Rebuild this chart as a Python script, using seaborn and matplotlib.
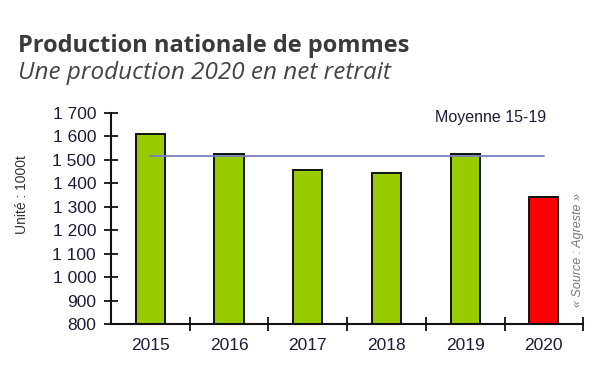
import matplotlib
matplotlib.use("Agg")
import matplotlib.pyplot as plt
import seaborn as sns
import pandas as pd
from matplotlib.ticker import FixedLocator

# Data
years = ["2015", "2016", "2017", "2018", "2019", "2020"]
production = [1610, 1523, 1457, 1444, 1523, 1340]
bar_colors = ["#99CC00", "#99CC00", "#99CC00", "#99CC00", "#99CC00", "#FF0000"]
moyenne_15_19 = 1515
y_ticks = [800, 900, 1000, 1100, 1200, 1300, 1400, 1500, 1600, 1700]
y_tick_labels = ["800", "900", "1 000", "1 100", "1 200", "1 300", "1 400", "1 500", "1 600", "1 700"]

title = "Production nationale de pommes"
subtitle = "Une production 2020 en net retrait"
y_label = "Unité : 1000t"
mean_label = "Moyenne 15-19"
source = "« Source : Agreste »"

sns.set_theme(style="white")
plt.rcParams["font.family"] = ["Liberation Sans", "DejaVu Sans"]

df = pd.DataFrame({"year": years, "production": production})

fig = plt.figure(figsize=(6, 3.7), dpi=100)
ax = fig.add_axes([0.185, 0.1243, 0.787, 0.5703])

sns.barplot(data=df, x="year", y="production", hue="year", palette=bar_colors,
            width=0.37, edgecolor="#111111", linewidth=1.4, saturation=1,
            legend=False, ax=ax)

# average line from first to last category
ax.plot([0, len(years) - 1], [moyenne_15_19, moyenne_15_19], color="#7b7fbf", lw=1.3, zorder=3)

ax.set_ylim(y_ticks[0], y_ticks[-1])
ax.set_xlim(-0.5, len(years) - 0.5)
ax.set_yticks(y_ticks)
ax.set_yticklabels(y_tick_labels)
ax.set_xlabel("")
ax.set_ylabel("")

for s in ["top", "right"]:
    ax.spines[s].set_visible(False)
for s in ["left", "bottom"]:
    ax.spines[s].set_color("#111111")
    ax.spines[s].set_linewidth(1.5)

ax.tick_params(axis="y", which="major", direction="inout", length=9.5, width=1.3,
               color="#111111", labelsize=12.5, labelcolor="#1c1c3a", pad=6, left=True)
ax.tick_params(axis="x", which="major", length=0, labelsize=12.5, labelcolor="#1c1c3a", pad=10)
ax.xaxis.set_minor_locator(FixedLocator([i + 0.5 for i in range(len(years))]))
ax.tick_params(axis="x", which="minor", direction="inout", length=9.5, width=1.3,
               color="#111111", bottom=True)

fig.text(0.03, 0.86, title, fontsize=17, fontweight="bold", color="#3a3a3a",
         family=["Open Sans", "DejaVu Sans"])
fig.text(0.03, 0.787, subtitle, fontsize=17.5, style="italic", color="#444444",
         family=["Open Sans", "DejaVu Sans"])

fig.text(0.037, 0.473, y_label, rotation=90, fontsize=10, color="#333333",
         ha="center", va="center")
fig.text(0.725, 0.683, mean_label, fontsize=11.5, color="#1c1c3a", ha="left", va="center")
fig.text(0.963, 0.325, source, rotation=90, fontsize=9, style="italic",
         color="#777777", ha="center", va="center")

fig.savefig("out.png", dpi=100)
